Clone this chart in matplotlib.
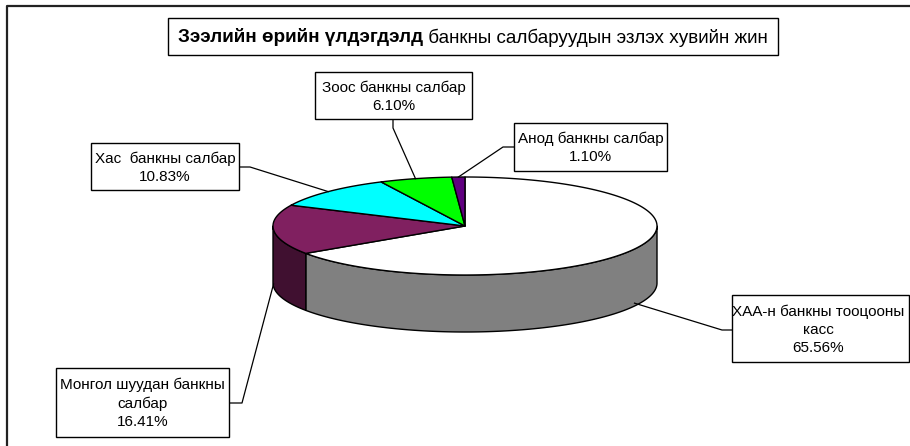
import numpy as np
import matplotlib
matplotlib.use("Agg")
import matplotlib.pyplot as plt
from matplotlib.patches import Polygon, Rectangle
from matplotlib.lines import Line2D

# ---------------- data ----------------
categories = ["ХАА-н банкны тооцооны касс", "Монгол шуудан банкны салбар",
              "Хас  банкны салбар", "Зоос банкны салбар", "Анод банкны салбар"]
label_texts = ["ХАА-н банкны тооцооны\nкасс", "Монгол шуудан банкны\nсалбар",
               "Хас  банкны салбар", "Зоос банкны салбар", "Анод банкны салбар"]
values = [65.56, 16.41, 10.83, 6.10, 1.10]
title_bold = "Зээлийн өрийн үлдэгдэлд"
title_rest = " банкны салбаруудын эзлэх хувийн жин"

# ---------------- style / layout ----------------
top_colors = ["#FFFFFF", "#802060", "#00FFFF", "#00FF00", "#600080"]
side_colors = ["#808080", "#401030", "#008080", "#008000", "#300040"]
FONT = "Liberation Sans"
FS = 11
TFS = 13.6

W, H = 910, 446
fig = plt.figure(figsize=(W / 100, H / 100), dpi=100)
ax = fig.add_axes([0, 0, 1, 1])
ax.set_xlim(0, W)
ax.set_ylim(H, 0)
ax.axis("off")

# chart frame (only left and top visible)
ax.add_line(Line2D([7, 7, W], [H, 6, 6], color="#222222", lw=1.6))

cx, cy, a, b, depth = 465, 226, 192, 49, 57


def pt(theta_deg, dy=0.0):
    t = np.radians(theta_deg)
    return cx + a * np.sin(t), cy - b * np.cos(t) + dy


fracs = np.array(values) / sum(values)
bounds = np.concatenate([[0], np.cumsum(fracs) * 360])

# side walls
for i in range(len(values)):
    t1, t2 = bounds[i], bounds[i + 1]
    s1, s2 = max(t1, 90), min(t2, 270)
    if s2 > s1:
        th = np.linspace(s1, s2, 200)
        x, y = pt(th)
        xs = np.concatenate([x, x[::-1]])
        ys = np.concatenate([y, (y + depth)[::-1]])
        ax.add_patch(Polygon(np.column_stack([xs, ys]), closed=True,
                             fc=side_colors[i], ec="black", lw=1.0, joinstyle="round"))

# top faces
for i in range(len(values)):
    t1, t2 = bounds[i], bounds[i + 1]
    th = np.linspace(t1, t2, max(int((t2 - t1) * 2), 10))
    x, y = pt(th)
    xs = np.concatenate([[cx], x])
    ys = np.concatenate([[cy], y])
    ax.add_patch(Polygon(np.column_stack([xs, ys]), closed=True,
                         fc=top_colors[i], ec="black", lw=1.0, joinstyle="round"))

# labels: box (x0, y0, x1, y1), attach point on box, elbow point
label_boxes = [(732, 295, 909, 362), (56, 368, 229, 437), (91, 143, 239, 190),
               (315, 72, 472, 119), (514, 123, 667, 171)]
attach = [(732, 330), (229, 403), (239, 167), (393, 119), (514, 147)]
elbow = [(722, 330), (242, 403), (250, 167), (393, 128), (503, 147)]
text_cx = [818, None, None, None, None]

for i, v in enumerate(values):
    mid = (bounds[i] + bounds[i + 1]) / 2
    front = 90 < mid < 270
    ax_, ay_ = pt(mid, depth * 0.95 if front else 0)
    ax.add_line(Line2D([attach[i][0], elbow[i][0], ax_], [attach[i][1], elbow[i][1], ay_],
                       color="black", lw=0.9, zorder=3))
    x0, y0, x1, y1 = label_boxes[i]
    ax.add_patch(Rectangle((x0, y0), x1 - x0, y1 - y0, fc="white", ec="black", lw=1.0, zorder=4))
    tx = text_cx[i] if text_cx[i] is not None else (x0 + x1) / 2
    ax.text(tx, (y0 + y1) / 2 + 1, f"{label_texts[i]}\n{v:.2f}%", ha="center", va="center",
            family=FONT, fontsize=FS, linespacing=1.38, zorder=5)

# title
tb = (168, 18, 778, 55)
ax.add_patch(Rectangle((tb[0], tb[1]), tb[2] - tb[0], tb[3] - tb[1], fc="white", ec="black", lw=1.0, zorder=4))
fig.canvas.draw()
r = fig.canvas.get_renderer()
t1 = ax.text(0, 0, title_bold, family=FONT, fontsize=TFS, fontweight="bold")
t2 = ax.text(0, 0, title_rest, family=FONT, fontsize=TFS)
w1 = t1.get_window_extent(r).width
w2 = t2.get_window_extent(r).width
t1.remove(); t2.remove()
start = (tb[0] + tb[2]) / 2 - (w1 + w2) / 2
ty = (tb[1] + tb[3]) / 2 + 1
ax.text(start, ty, title_bold, family=FONT, fontsize=TFS, fontweight="bold", va="center", ha="left", zorder=5)
ax.text(start + w1, ty, title_rest, family=FONT, fontsize=TFS, va="center", ha="left", zorder=5)

fig.savefig("out.png", dpi=100)
